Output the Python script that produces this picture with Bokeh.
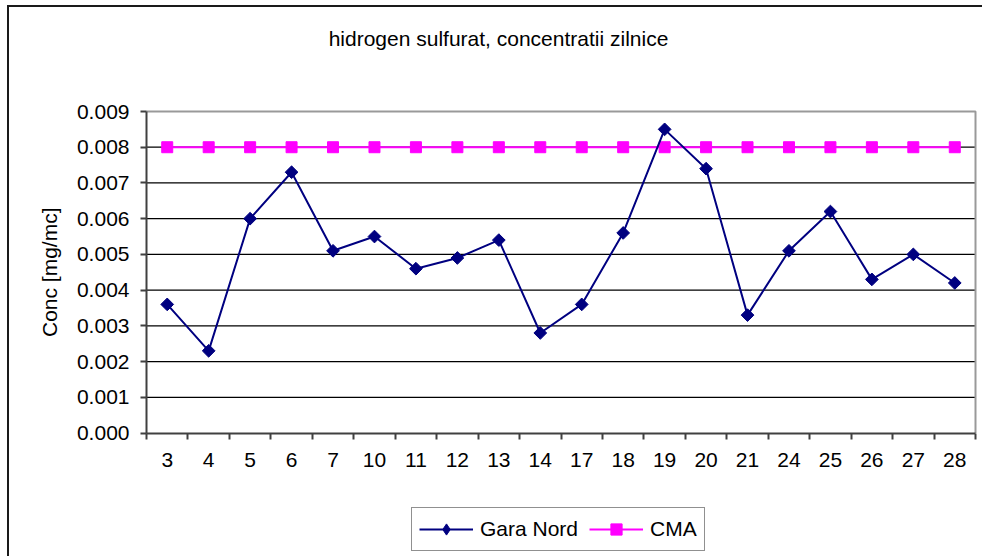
import numpy as np
from bokeh.plotting import figure
from bokeh.models import (FixedTicker, Legend, LegendItem, Range1d, Label,
                          NumeralTickFormatter)
from bokeh.embed import file_html
from bokeh.resources import INLINE

# ---- data ----
days = ["3", "4", "5", "6", "7", "10", "11", "12", "13", "14",
        "17", "18", "19", "20", "21", "24", "25", "26", "27", "28"]
gara_nord = [0.0036, 0.0023, 0.0060, 0.0073, 0.0051, 0.0055, 0.0046, 0.0049,
             0.0054, 0.0028, 0.0036, 0.0056, 0.0085, 0.0074, 0.0033, 0.0051,
             0.0062, 0.0043, 0.0050, 0.0042]
cma = [0.008, 0.008, 0.008, 0.008, 0.008, 0.008, 0.008, 0.008, 0.008, 0.008,
       0.008, 0.008, 0.008, 0.008, 0.008, 0.008, 0.008, 0.008, 0.008, 0.008]
y_ticks = [0.000, 0.001, 0.002, 0.003, 0.004, 0.005, 0.006, 0.007, 0.008, 0.009]

title_text = "hidrogen sulfurat, concentratii zilnice"
y_label = "Conc [mg/mc]"

FONT = "Liberation Sans"

# ---- layout (pixels) ----
W, H = 982, 556
AREA_LEFT, AREA_RIGHT = 146, 975     # value area, x pixels
AREA_TOP, ZERO_Y = 111, 432.5        # value area, y pixels (top, value 0)
TITLE_CX, TITLE_CY = 498, 38
YLABEL_CX = 49
LEGEND_LEFT, LEGEND_BOTTOM = 411, 550.5

n = len(days)
xs = [i + 0.5 for i in range(n)]
bounds = [float(i) for i in range(n + 1)]
y_top = y_ticks[-1]

# the plot frame covers the whole canvas; ranges chosen so that the value
# area lands on the pixels above
ppx = (AREA_RIGHT - AREA_LEFT) / n
ppy = (ZERO_Y - AREA_TOP) / y_top
x_start, x_end = -AREA_LEFT / ppx, n + (W - AREA_RIGHT) / ppx
y_start, y_end = -(H - ZERO_Y) / ppy, y_top + AREA_TOP / ppy

p = figure(width=W, height=H, output_backend="svg", toolbar_location=None,
           x_range=Range1d(x_start, x_end), y_range=Range1d(y_start, y_end),
           min_border_left=0, min_border_right=0,
           min_border_top=0, min_border_bottom=0)
p.title.visible = False

# outer chart-area frame (only its left and top edges fall inside the window)
p.border_fill_color = None
p.background_fill_color = None
p.outline_line_color = None
p.styles = {
    "background": ("linear-gradient(#1a1a1a, #1a1a1a) 7px 5px / 2px 100% no-repeat, "
                   "linear-gradient(#1a1a1a, #1a1a1a) 7px 5px / 100% 2px no-repeat, "
                   "white"),
}

p.xgrid.visible = False
p.ygrid.visible = False

# horizontal gridlines and grey top/right edges of the value area
grid_vals = y_ticks[1:-1]
p.segment(x0=[0] * len(grid_vals), x1=[n] * len(grid_vals),
          y0=grid_vals, y1=grid_vals, line_color="black", line_width=1.3)
p.line([0, n, n], [y_top, y_top, 0], line_color="#999999", line_width=2)

# x axis, fixed at value 0
xa = p.xaxis[0]
xa.fixed_location = 0
xa.bounds = (0, n)
xa.ticker = FixedTicker(ticks=xs, minor_ticks=bounds)
xa.major_label_overrides = {x: d for x, d in zip(xs, days)}
xa.major_tick_in = 0
xa.major_tick_out = 0
xa.minor_tick_in = 0
xa.minor_tick_out = 6
xa.minor_tick_line_color = "#404040"
xa.minor_tick_line_width = 2
xa.axis_line_color = "#404040"
xa.axis_line_width = 2
xa.major_label_text_font = FONT
xa.major_label_text_font_size = "21px"
xa.major_label_text_color = "black"
xa.major_label_standoff = 14

# y axis, fixed at x = 0
ya = p.yaxis[0]
ya.fixed_location = 0
ya.bounds = (0, y_top)
ya.ticker = FixedTicker(ticks=y_ticks)
ya.formatter = NumeralTickFormatter(format="0.000")
ya.major_tick_in = 0
ya.major_tick_out = 6
ya.major_tick_line_color = "#404040"
ya.major_tick_line_width = 2
ya.minor_tick_line_color = None
ya.axis_line_color = "#404040"
ya.axis_line_width = 2
ya.major_label_text_font = FONT
ya.major_label_text_font_size = "21px"
ya.major_label_text_color = "black"
ya.major_label_standoff = 11

# title and y-axis label
p.add_layout(Label(x=n / 2, y=y_top, x_offset=TITLE_CX - (AREA_LEFT + AREA_RIGHT) / 2,
                   y_offset=AREA_TOP - TITLE_CY, text=title_text,
                   text_font=FONT, text_font_size="21px", text_color="black",
                   text_align="center", text_baseline="middle"))
p.add_layout(Label(x=0, y=y_top / 2, x_offset=YLABEL_CX - AREA_LEFT, text=y_label,
                   angle=np.pi / 2, text_font=FONT, text_font_size="21px",
                   text_color="black", text_align="center", text_baseline="middle"))

# series
cma_line = p.line(xs, cma, line_color="#FF00FF", line_width=2)
cma_mark = p.scatter(xs, cma, marker="square", size=11,
                     fill_color="#FF00FF", line_color="#FF00FF")
gn_line = p.line(xs, gara_nord, line_color="#000080", line_width=2)
gn_mark = p.scatter(xs, gara_nord, marker="square", angle=np.pi / 4, size=9,
                    fill_color="#000080", line_color="#000080")
# legend icon only (legend icons are drawn unrotated)
gn_icon = p.scatter(xs, gara_nord, marker="diamond", size=12, visible=False,
                    fill_color="#000080", line_color="#000080")

legend = Legend(items=[LegendItem(label="Gara Nord", renderers=[gn_line, gn_icon]),
                       LegendItem(label="CMA", renderers=[cma_line, cma_mark])],
                orientation="horizontal", location=(LEGEND_LEFT, H - LEGEND_BOTTOM))
legend.label_text_font = FONT
legend.label_text_font_size = "21px"
legend.label_text_color = "black"
legend.glyph_width = 54
legend.glyph_height = 28
legend.label_height = 28
legend.label_standoff = 7
legend.spacing = 11
legend.padding = 7
legend.margin = 0
legend.inactive_fill_alpha = 0
legend.border_line_color = "#222222"
legend.border_line_width = 1.5
legend.background_fill_color = "white"
legend.background_fill_alpha = 1
p.add_layout(legend)

open("out.html", "w").write(file_html(p, INLINE))
